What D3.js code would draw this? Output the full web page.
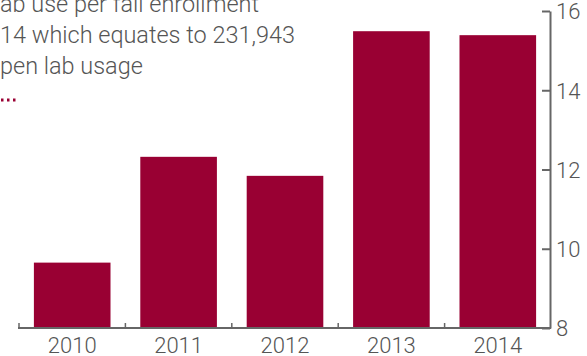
<!DOCTYPE html>
<html>
<head>
<meta charset="utf-8">
<script src="https://cdn.jsdelivr.net/npm/d3@7"></script>
<style>
  html, body { margin: 0; padding: 0; background: #fff; }
  svg { display: block; font-family: Roboto, Lato, sans-serif; font-weight: 300; }
</style>
</head>
<body>
<svg id="chart" width="587" height="356"></svg>
<script>
// Open lab use per fall enrollment, by year
const years = ["2010", "2011", "2012", "2013", "2014"];
const labUse = [9.65, 12.32, 11.84, 15.49, 15.39];
const yTicks = [8, 10, 12, 14, 16];
const noteLines = ["ab use per fall enrollment", "14 which equates to 231,943", "pen lab usage"];

const barColor = "#990033";
const inkColor = "#555555";
const axisColor = "#666666";
const fontStack = "Roboto, Lato, sans-serif";

const svg = d3.select("#chart");

const x = d3.scaleBand().domain(years).range([19, 551]).paddingInner(0.28).paddingOuter(0.14);
const y = d3.scaleLinear().domain([8, 16]).range([328, 11]);
const axisX = 550;

// bars
svg.append("g").selectAll("rect")
  .data(years.map((yr, i) => ({ yr, v: labUse[i] })))
  .join("rect")
  .attr("x", d => x(d.yr))
  .attr("width", x.bandwidth())
  .attr("y", d => y(d.v))
  .attr("height", d => y(8) - y(d.v))
  .attr("fill", barColor);

// right value axis
const yAxis = svg.append("g")
  .attr("transform", `translate(${axisX},0)`)
  .call(d3.axisRight(y).tickValues(yTicks).tickSizeInner(-8).tickSizeOuter(0).tickPadding(6));
yAxis.select(".domain").attr("stroke", axisColor).attr("stroke-width", 2);
yAxis.selectAll(".tick line").attr("stroke", axisColor).attr("stroke-width", 2);
yAxis.selectAll(".tick text")
  .attr("x", 6)
  .attr("dy", "0.36em")
  .attr("fill", inkColor)
  .style("font-size", "22px")
  .style("font-family", fontStack)
  .style("font-weight", 300);

// bottom category axis
const xAxis = svg.append("g")
  .attr("transform", `translate(0,${y(8)})`)
  .call(d3.axisBottom(x).tickSize(0).tickPadding(9));
xAxis.select(".domain").remove();
xAxis.selectAll(".tick text")
  .attr("fill", inkColor)
  .attr("dy", "0.71em")
  .style("font-size", "22px")
  .style("font-family", fontStack)
  .style("font-weight", 300);

const step = x.step();
const gap = step * x.paddingOuter();
const boundaries = years.map(yr => x(yr) - gap);
svg.append("line")
  .attr("x1", boundaries[0] - 1).attr("x2", axisX + 1)
  .attr("y1", y(8)).attr("y2", y(8))
  .attr("stroke", axisColor).attr("stroke-width", 2);
svg.append("g").selectAll("line")
  .data(boundaries)
  .join("line")
  .attr("x1", d => d).attr("x2", d => d)
  .attr("y1", y(8)).attr("y2", y(8) - 5)
  .attr("stroke", axisColor).attr("stroke-width", 1.5);

// note text in the upper left, sized so the widest line spans 295px
const note = svg.append("g").style("font-size", "24px");
const noteText = note.selectAll("text")
  .data(noteLines)
  .join("text")
  .attr("x", 0)
  .attr("y", (d, i) => 12 + i * 31)
  .attr("fill", inkColor)
  .text(d => d);
const widest = noteText.nodes()[1].getComputedTextLength();
note.style("font-size", (24 * 295 / widest).toFixed(2) + "px");

// dotted rule under the note
svg.append("line")
  .attr("x1", 1).attr("x2", 19)
  .attr("y1", 100).attr("y2", 100)
  .attr("stroke", barColor)
  .attr("stroke-width", 3)
  .attr("stroke-dasharray", "2.5,3.5");
</script>
</body>
</html>
